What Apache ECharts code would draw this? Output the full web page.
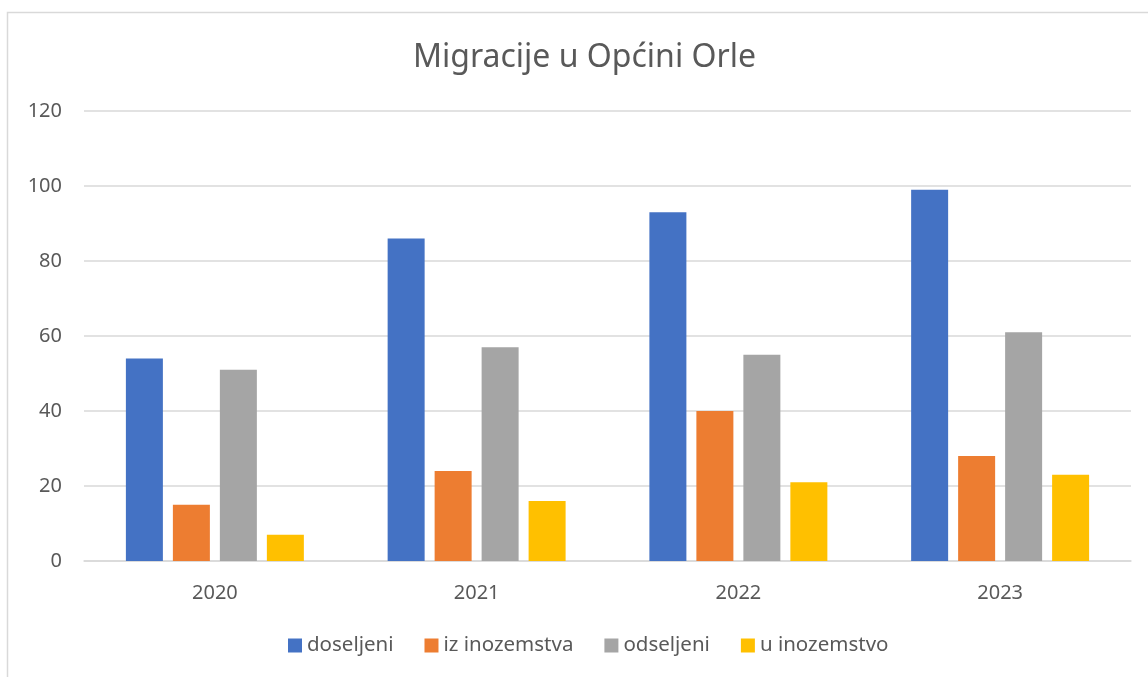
<!DOCTYPE html>
<html>
<head>
<meta charset="utf-8">
<script src="https://cdn.jsdelivr.net/npm/echarts@6/dist/echarts.min.js"></script>
<style>
  html, body { margin: 0; padding: 0; background: #fff; }
  #chart { width: 1148px; height: 677px; }
</style>
</head>
<body>
<div id="chart"></div>
<script>
var years = ['2020', '2021', '2022', '2023'];
var seriesNames = ['doseljeni', 'iz inozemstva', 'odseljeni', 'u inozemstvo'];
var doseljeni = [54, 86, 93, 99];
var izInozemstva = [15, 24, 40, 28];
var odseljeni = [51, 57, 55, 61];
var uInozemstvo = [7, 16, 21, 23];
var colors = ['#4472C4', '#ED7D31', '#A5A5A5', '#FFC000'];

var font = 'Noto Sans';
var textColor = '#595959';

var chart = echarts.init(document.getElementById('chart'));

function bar(name, data, i) {
    return {
        name: name,
        type: 'bar',
        data: data,
        barWidth: 37,
        barGap: '27%',
        itemStyle: { color: colors[i] }
    };
}

var option = {
    animation: false,
    color: colors,
    graphic: [{
        type: 'rect',
        shape: { x: 7.5, y: 12.5, width: 1200, height: 700 },
        style: { fill: 'none', stroke: '#D9D9D9', lineWidth: 1.5 },
        silent: true
    }],
    title: {
        text: 'Migracije u Općini Orle',
        left: 408,
        top: 37,
        textStyle: { fontFamily: font, fontSize: 32, fontWeight: 'normal', color: textColor }
    },
    legend: {
        data: seriesNames,
        top: 630,
        left: 283,
        itemWidth: 14,
        itemHeight: 14,
        itemGap: 31,
        icon: 'rect',
        textStyle: { fontFamily: font, fontSize: 20.5, color: textColor }
    },
    grid: { left: 84, right: 17, top: 111, bottom: 116 },
    xAxis: {
        type: 'category',
        data: years,
        axisLine: { lineStyle: { color: '#D9D9D9', width: 1.5 } },
        axisTick: { show: false },
        axisLabel: { fontFamily: font, fontSize: 20, color: textColor, margin: 22 }
    },
    yAxis: {
        type: 'value',
        min: 0,
        max: 120,
        interval: 20,
        axisLine: { show: false },
        axisTick: { show: false },
        splitLine: { lineStyle: { color: '#D9D9D9', width: 1.5 } },
        axisLabel: { fontFamily: font, fontSize: 20, color: textColor, margin: 22 }
    },
    series: [
        bar(seriesNames[0], doseljeni, 0),
        bar(seriesNames[1], izInozemstva, 1),
        bar(seriesNames[2], odseljeni, 2),
        bar(seriesNames[3], uInozemstvo, 3)
    ]
};

chart.setOption(option);
window.onresize = function () { chart.resize(); };
</script>
</body>
</html>
